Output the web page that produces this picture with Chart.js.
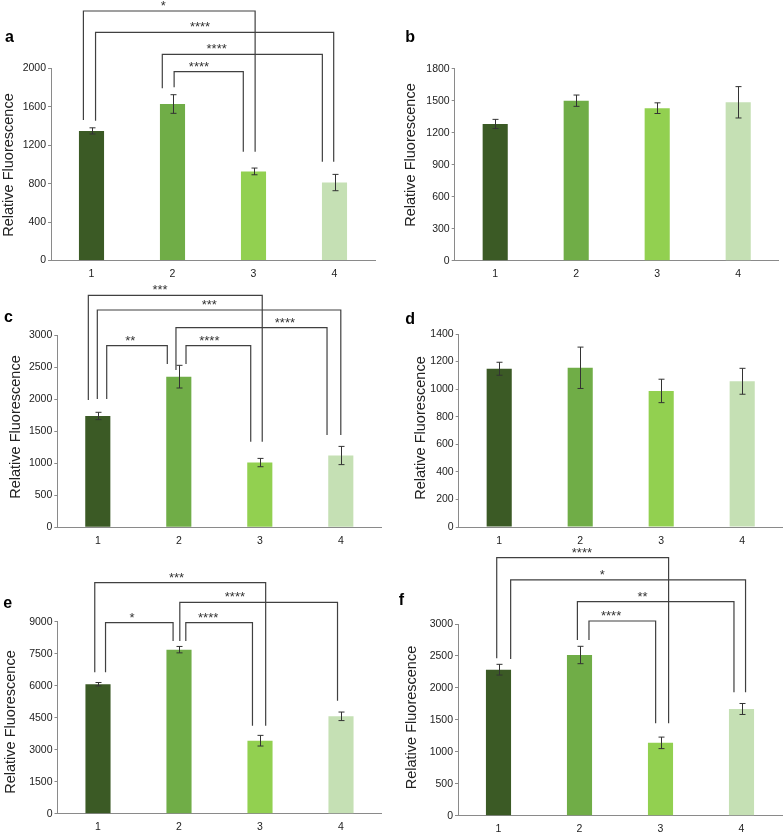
<!DOCTYPE html>
<html>
<head>
<meta charset="utf-8">
<script src="https://cdn.jsdelivr.net/npm/chart.js@4.4.1/dist/chart.umd.min.js"></script>
<style>
  body { margin: 0; background: #fff; width: 784px; height: 834px; position: relative; overflow: hidden; }
  canvas { position: absolute; }
</style>
</head>
<body>
<canvas id="a"></canvas>
<canvas id="b"></canvas>
<canvas id="c"></canvas>
<canvas id="d"></canvas>
<canvas id="e"></canvas>
<canvas id="f"></canvas>
<script>
const groups = ['1', '2', '3', '4'];
const barColors = ['#3b5a25', '#70ad47', '#92d050', '#c5e0b4'];
const axisTitle = 'Relative Fluorescence';

// means and error (±) per panel
const aMeans = [1350, 1630, 928, 812];
const aErrors = [32, 97, 35, 85];
const aTicks = [0, 400, 800, 1200, 1600, 2000];

const bMeans = [1282, 1500, 1430, 1485];
const bErrors = [43, 53, 50, 147];
const bTicks = [0, 300, 600, 900, 1200, 1500, 1800];

const cMeans = [1737, 2350, 1010, 1120];
const cErrors = [57, 177, 65, 142];
const cTicks = [0, 500, 1000, 1500, 2000, 2500, 3000];

const dMeans = [1148, 1155, 987, 1057];
const dErrors = [47, 150, 85, 94];
const dTicks = [0, 200, 400, 600, 800, 1000, 1200, 1400];

const eMeans = [6070, 7690, 3422, 4565];
const eErrors = [80, 150, 250, 200];
const eTicks = [0, 1500, 3000, 4500, 6000, 7500, 9000];

const fMeans = [2285, 2515, 1140, 1670];
const fErrors = [84, 136, 90, 86];
const fTicks = [0, 500, 1000, 1500, 2000, 2500, 3000];

// significance brackets: [left leg (category), right leg, top value, left foot value, right foot value, label, label position]
const aBrackets = [
  [-0.10, 2.02, 2599, 1464, 1133, '*', 0.886],
  [0.05, 2.99, 2377, 1456, 1029, '****', 1.34],
  [0.874, 2.85, 2148, 1794, 1029, '****', 1.545],
  [1.02, 1.874, 1967, 1804, 1133, '****', 1.327]
];
const bBrackets = [];
const cBrackets = [
  [-0.117, 2.03, 3619, 1987, 1335, '***', 0.768],
  [-0.006, 3.0, 3390, 2001, 1440, '***', 1.377],
  [0.965, 2.83, 3114, 2454, 1440, '****', 2.31],
  [0.11, 0.858, 2833, 2001, 2547, '**', 0.4],
  [1.089, 1.888, 2833, 2547, 1335, '****', 1.377]
];
const dBrackets = [];
const eBrackets = [
  [-0.04, 2.07, 10828, 6628, 4125, '***', 0.97],
  [1.01, 2.957, 9909, 8095, 5297, '****', 1.69],
  [0.093, 0.927, 8953, 6628, 8095, '*', 0.42],
  [1.084, 1.907, 8953, 8095, 4125, '****', 1.36]
];
const fBrackets = [
  [-0.022, 2.1, 4038, 2463, 1446, '****', 1.03],
  [0.15, 3.05, 3689, 2452, 1931, '*', 1.28],
  [0.974, 2.907, 3349, 2750, 1931, '**', 1.777],
  [1.117, 1.94, 3047, 2750, 1446, '****', 1.39]
];

const FONT = "'Liberation Sans', Arial, sans-serif";
const axisGray = '#8a8a8a';
const inkColor = '#222';

// canvas box [left, top, w, h]; plot [left, top, right, bottom] in canvas coords
const panels = [
  { id: 'a', means: aMeans, errors: aErrors, ticks: aTicks, brackets: aBrackets,
    box: [0, 0, 392, 280], plot: [51, 68.5, 375, 260.5], title: [13.3, 165], letter: [5, 41.5] },
  { id: 'b', means: bMeans, errors: bErrors, ticks: bTicks, brackets: bBrackets,
    box: [392, 0, 392, 280], plot: [62.7, 68.7, 386.7, 260.7], title: [23.3, 155], letter: [13.3, 41.5] },
  { id: 'c', means: cMeans, errors: cErrors, ticks: cTicks, brackets: cBrackets,
    box: [0, 280, 392, 275], plot: [57.3, 55, 381.3, 247.3], title: [20, 147], letter: [4, 41.5] },
  { id: 'd', means: dMeans, errors: dErrors, ticks: dTicks, brackets: dBrackets,
    box: [392, 280, 392, 275], plot: [66.7, 54, 390.7, 247], title: [33.3, 148], letter: [13.3, 44] },
  { id: 'e', means: eMeans, errors: eErrors, ticks: eTicks, brackets: eBrackets,
    box: [0, 555, 392, 279], plot: [57.5, 66.7, 381.5, 258.7], title: [15, 167], letter: [3.3, 53.3] },
  { id: 'f', means: fMeans, errors: fErrors, ticks: fTicks, brackets: fBrackets,
    box: [392, 540, 392, 294], plot: [66, 84, 390, 275.7], title: [24, 177.5], letter: [6.7, 65] }
];

function makeOverlay(p) {
  return {
    id: 'overlay',
    afterDatasetsDraw(chart) {
      const ctx = chart.ctx, y = chart.scales.y;
      const bars = chart.getDatasetMeta(0).data;
      ctx.save();
      ctx.strokeStyle = '#333';
      ctx.lineWidth = 1;
      bars.forEach((bar, i) => {
        const x = Math.round(bar.x) + 0.5;
        const hi = y.getPixelForValue(p.means[i] + p.errors[i]);
        const lo = y.getPixelForValue(p.means[i] - p.errors[i]);
        ctx.beginPath();
        ctx.moveTo(x, hi); ctx.lineTo(x, lo);
        ctx.moveTo(x - 3, hi); ctx.lineTo(x + 3, hi);
        ctx.moveTo(x - 3, lo); ctx.lineTo(x + 3, lo);
        ctx.stroke();
      });
      ctx.restore();
    },
    afterDraw(chart) {
      const ctx = chart.ctx, xs = chart.scales.x, ys = chart.scales.y;
      ctx.save();
      ctx.strokeStyle = '#404040';
      ctx.lineWidth = 1.2;
      ctx.fillStyle = '#333';
      ctx.font = '13px ' + FONT;
      ctx.textAlign = 'center';
      ctx.textBaseline = 'alphabetic';
      p.brackets.forEach(([l, r, top, fl, fr, label, lx]) => {
        const x1 = xs.getPixelForValue(l), x2 = xs.getPixelForValue(r);
        const yt = ys.getPixelForValue(top);
        ctx.beginPath();
        ctx.moveTo(x1, ys.getPixelForValue(fl));
        ctx.lineTo(x1, yt);
        ctx.lineTo(x2, yt);
        ctx.lineTo(x2, ys.getPixelForValue(fr));
        ctx.stroke();
        ctx.fillText(label, xs.getPixelForValue(lx), yt - 1);
      });

      // axis title
      ctx.fillStyle = inkColor;
      ctx.font = '14.5px ' + FONT;
      ctx.save();
      ctx.translate(p.title[0], p.title[1]);
      ctx.rotate(-Math.PI / 2);
      ctx.fillText(axisTitle, 0, 0);
      ctx.restore();

      // panel letter
      ctx.font = 'bold 16px ' + FONT;
      ctx.textAlign = 'left';
      ctx.fillStyle = '#000';
      ctx.fillText(p.id, p.letter[0], p.letter[1]);
      ctx.restore();
    }
  };
}

panels.forEach(p => {
  const cv = document.getElementById(p.id);
  const [bx, by, bw, bh] = p.box;
  const [pl, pt, pr, pb] = p.plot;
  cv.width = bw; cv.height = bh;
  cv.style.left = bx + 'px'; cv.style.top = by + 'px';
  const tickFont = { family: FONT, size: 10.5 };
  new Chart(cv, {
    type: 'bar',
    data: {
      labels: groups,
      datasets: [{
        data: p.means,
        backgroundColor: barColors,
        barPercentage: 0.31,
        categoryPercentage: 1
      }]
    },
    options: {
      responsive: false,
      animation: false,
      devicePixelRatio: 1,
      layout: { padding: { left: 0, top: pt, right: bw - pr, bottom: 0 } },
      plugins: { legend: { display: false }, tooltip: { enabled: false } },
      scales: {
        x: {
          grid: { display: false, drawTicks: false },
          border: { display: true, color: axisGray, width: 1 },
          ticks: { padding: 7.5, font: tickFont, color: inkColor },
          afterFit(s) { s.height = bh - pb; }
        },
        y: {
          min: p.ticks[0],
          max: p.ticks[p.ticks.length - 1],
          ticks: {
            stepSize: p.ticks[1] - p.ticks[0], padding: 2, font: tickFont, color: inkColor,
            callback: v => String(v)
          },
          grid: { drawOnChartArea: false, drawTicks: true, tickLength: 3, color: axisGray },
          border: { display: true, color: axisGray, width: 1 },
          afterFit(s) { s.width = pl; }
        }
      }
    },
    plugins: [makeOverlay(p)]
  });
});
</script>
</body>
</html>
